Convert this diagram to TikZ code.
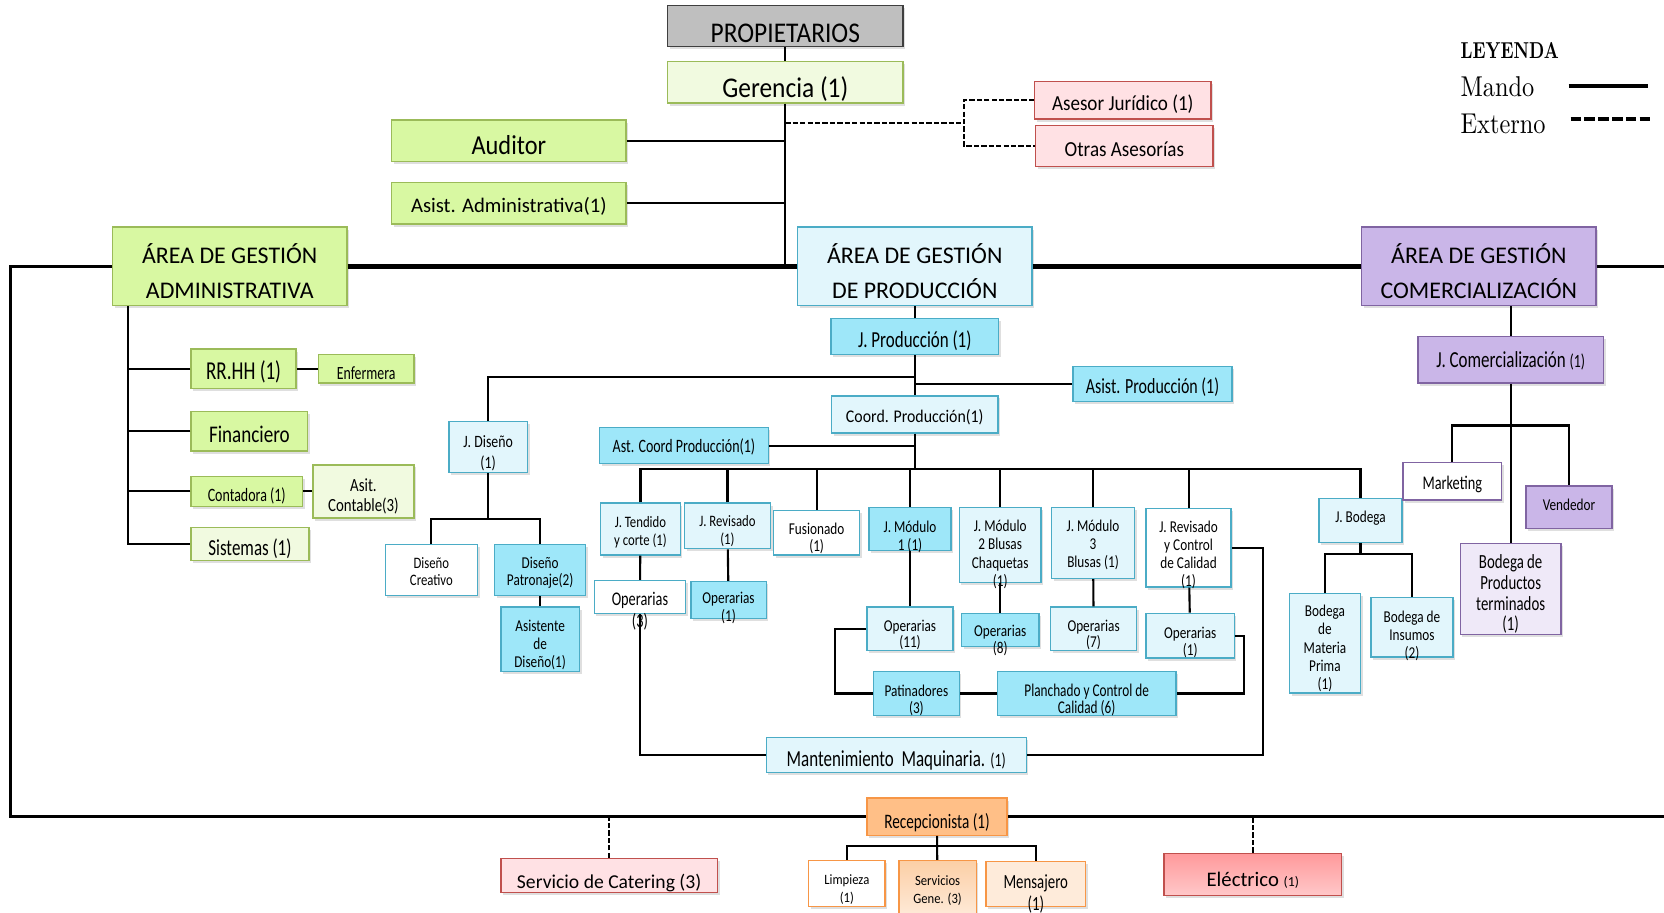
\documentclass[tikz,border=0pt]{standalone}
\usepackage{fontspec}
\setmainfont{Carlito}[FakeStretch=0.8]
\newfontfamily\tallfont{Carlito}[FakeStretch=0.74]
\newfontfamily\midfont{Carlito}[FakeStretch=0.89]
\newfontfamily\flatfont{Carlito}
\newfontfamily\legfont{lmroman10-regular.otf}[FakeStretch=0.85]
\newfontfamily\legbold{lmroman10-bold.otf}[FakeStretch=0.75]
\usetikzlibrary{shadows}

\newcommand\fsz[2]{\fontsize{#1}{#2}\selectfont}

\definecolor{grayfill}{HTML}{BFBFBF}
\definecolor{grayline}{HTML}{3F3F3F}
\definecolor{limefill}{HTML}{D8F8A2}
\definecolor{limeline}{HTML}{9BBB59}
\definecolor{palefill}{HTML}{F1FAE0}
\definecolor{skyfill}{HTML}{E2F6FC}
\definecolor{skyline}{HTML}{4BACC6}
\definecolor{aquafill}{HTML}{9EE7F9}
\definecolor{lilacfill}{HTML}{CAB6E8}
\definecolor{lilacpale}{HTML}{EFE9F8}
\definecolor{lilacline}{HTML}{8064A2}
\definecolor{rosefill}{HTML}{FFE1E4}
\definecolor{roseline}{HTML}{C0504D}
\definecolor{redtop}{HTML}{FF999B}
\definecolor{redbottom}{HTML}{FFC8C9}
\definecolor{peachfill}{HTML}{FFBF87}
\definecolor{peachline}{HTML}{F79646}
\definecolor{peachtop}{HTML}{FCCFA6}
\definecolor{peachbottom}{HTML}{FEEBDA}

\tikzset{
  box/.style={rectangle, draw, line width=1.3pt, inner sep=0pt,
    drop shadow={shadow xshift=2pt, shadow yshift=-2.5pt, opacity=.25}},
  graybox/.style={box, draw=grayline, fill=grayfill},
  limebox/.style={box, draw=limeline, fill=limefill},
  palebox/.style={box, draw=limeline, fill=palefill},
  skybox/.style={box, draw=skyline, fill=skyfill},
  aquabox/.style={box, draw=skyline, fill=aquafill},
  whitebox/.style={box, draw=skyline, fill=white},
  lilacbox/.style={box, draw=lilacline, fill=lilacfill},
  rosebox/.style={box, draw=roseline, fill=rosefill},
  peachbox/.style={box, draw=peachline, fill=peachfill},
  sz/.style 2 args={minimum width=#1pt, minimum height=#2pt},
  txt/.style={align=center, inner sep=0pt, text=black, yshift=#1pt},
  txt/.default=-5,
  arealine/.style={line width=4.4pt},
  frame/.style={line width=2.5pt},
  externo/.style={line width=2pt, dash pattern=on 5pt off 2pt},
}

\begin{document}
\begin{tikzpicture}[x=1pt, y=-1pt, line width=2pt]
  \useasboundingbox (0,0) rectangle (1568,860);

  \node[graybox, sz={222}{39}, label={[txt=-6.5, font=\midfont\fsz{26.9}{30}]center:PROPIETARIOS}] (prop) at (740,24.5) {};
  \node[palebox, sz={222}{39}, label={[txt=-6.5, font=\midfont\fsz{26.9}{30}]center:Gerencia (1)}] (ger) at (740,77.5) {};
  \node[limebox, sz={221}{39}, label={[txt=-4, font=\midfont\fsz{25.8}{30}]center:Auditor}] (aud) at (479.5,132.5) {};
  \node[limebox, sz={221}{39}, label={[txt=-3, font=\flatfont\fsz{19.5}{23}]center:Asist. Administrativa(1)}] (asadm) at (479.5,191.5) {};
  \node[rosebox, sz={166}{35}, label={[txt=-4, font=\midfont\fsz{20.2}{24}]center:Asesor Jurídico (1)}] (asjur) at (1058,94.5) {};
  \node[rosebox, sz={167}{39}, label={[txt=-3, font=\midfont\fsz{20.2}{24}]center:Otras Asesorías}] (otras) at (1059.5,137.5) {};

  \node[anchor=base west, font=\legbold\fsz{21.7}{24}] (leyenda) at (1372,55) {LEYENDA};
  \node[anchor=base west, font=\legfont\fsz{27}{30}] (mando) at (1372,91) {Mando};
  \node[anchor=base west, font=\legfont\fsz{27}{30}] (externo) at (1372,126) {Externo};
  \coordinate (mandoA) at (1478,81);
  \coordinate (mandoB) at (1553,81);
  \coordinate (extA) at (1480,112);
  \coordinate (extB) at (1556,112);
  \draw[line width=4pt] (mandoA) -- (mandoB);
  \draw[line width=4pt, dash pattern=on 10pt off 3pt] (extA) -- (extB);

  \node[limebox, sz={221}{74}, label={[txt=-4.5, font=\flatfont\fsz{22.5}{33}]center:{ÁREA DE GESTIÓN\\ADMINISTRATIVA}}] (aadm) at (216.5,251) {};
  \node[skybox, sz={221}{74}, label={[txt=-4.5, font=\flatfont\fsz{22.5}{33}]center:{ÁREA DE GESTIÓN\\DE PRODUCCIÓN}}] (aprod) at (862,251) {};
  \node[lilacbox, sz={221}{74}, label={[txt=-4.5, font=\flatfont\fsz{22.5}{33}]center:{ÁREA DE GESTIÓN\\COMERCIALIZACIÓN}}] (acom) at (1393.5,251) {};

  \node[limebox, sz={99}{37}, label={[txt=-3, font=\tallfont\fsz{24.3}{28}]center:RR.HH (1)}] (rrhh) at (229.5,347.5) {};
  \node[limebox, sz={90}{27}, label={[txt=-4.5, font=\tallfont\fsz{17.6}{20}]center:Enfermera}] (enf) at (345,347.5) {};
  \node[limebox, sz={110}{37}, label={[txt=-2.5, font=\fsz{22.5}{26}]center:Financiero}] (fin) at (235,406.5) {};
  \node[limebox, sz={105}{28}, label={[txt=-4.5, font=\tallfont\fsz{17.8}{20}]center:Contadora (1)}] (cont) at (232.5,463) {};
  \node[palebox, sz={95}{50}, label={[txt=-5, font=\fsz{17.5}{19}]center:{Asit.\\Contable(3)}}] (asitc) at (342.5,463) {};
  \node[palebox, sz={111}{31}, label={[txt=-5, font=\tallfont\fsz{21.6}{24}]center:Sistemas (1)}] (sist) at (235.5,512.5) {};

  \node[aquabox, sz={158}{34}, label={[txt=-4, font=\tallfont\fsz{21.6}{24}]center:J. Producción (1)}] (jprod) at (862,317) {};
  \node[aquabox, sz={150}{33}, label={[txt=-2.5, font=\tallfont\fsz{20.3}{24}]center:Asist. Producción (1)}] (asprod) at (1086,362) {};
  \node[skybox, sz={157}{35}, label={[txt=-2.5, font=\midfont\fsz{16.8}{20}]center:Coord. Producción(1)}] (coord) at (862,390.5) {};
  \node[aquabox, sz={159}{34}, label={[txt=-1.5, font=\tallfont\fsz{17.8}{20}]center:Ast. Coord Producción(1)}] (astc) at (644.5,420) {};
  \node[skybox, sz={74}{48}, label={[txt=-6, font=\fsz{16.3}{20}]center:{J. Diseño\\(1)}}] (jdis) at (460,421) {};
  \node[whitebox, sz={87}{48}, label={[txt=-2, font=\fsz{15}{16}]center:{Diseño\\Creativo}}] (dcre) at (406.5,537) {};
  \node[aquabox, sz={86}{48}, label={[txt=-3, font=\fsz{15.6}{16}]center:{Diseño\\Patronaje(2)}}] (dpat) at (509,537) {};
  \node[aquabox, sz={74}{61}, label={[txt=-5, font=\fsz{15.6}{17}]center:{Asistente\\de\\Diseño(1)}}] (asdis) at (509,602.5) {};

  \node[skybox, sz={75}{49}, label={[txt=-3, font=\fsz{15}{17}]center:{J. Tendido\\y corte (1)}}] (jten) at (603.5,498.5) {};
  \node[skybox, sz={81}{43}, label={[txt=-5, font=\fsz{15}{17}]center:{J. Revisado\\(1)}}] (jrev) at (685.5,495.5) {};
  \node[whitebox, sz={81}{42}, label={[txt=-5.5, font=\fsz{15.6}{16}]center:{Fusionado\\(1)}}] (fus) at (769.5,502) {};
  \node[aquabox, sz={77}{41}, label={[txt=-7, font=\fsz{15.6}{17}]center:{J. Módulo\\1 (1)}}] (jm1) at (857.5,498.5) {};
  \node[skybox, sz={77}{71}, label={[txt=-9, font=\fsz{15.6}{17.3}]center:{J. Módulo\\2 Blusas\\Chaquetas\\(1)}}] (jm2) at (942.5,513.5) {};
  \node[skybox, sz={78}{67}, label={[txt=-2, font=\fsz{15.6}{17}]center:{J. Módulo\\3\\Blusas (1)}}] (jm3) at (1030,511.5) {};
  \node[whitebox, sz={80}{74}, label={[txt=-6.5, font=\fsz{15.6}{17}]center:{J. Revisado\\y Control\\de Calidad\\(1)}}] (jrc) at (1120,516) {};
  \node[whitebox, sz={86}{31}, label={[txt=-13.5, font=\tallfont\fsz{18.2}{21}]center:{Operarias\\(3)}}] (op3) at (603,562.5) {};
  \node[aquabox, sz={71}{35}, label={[txt=-7.5, font=\fsz{15.6}{17}]center:{Operarias\\(1)}}] (opr) at (686.5,565.5) {};
  \node[skybox, sz={81}{41}, label={[txt=-6, font=\fsz{15.6}{15.5}]center:{Operarias\\(11)}}] (op11) at (857.5,592.5) {};
  \node[aquabox, sz={73}{31}, label={[txt=-10, font=\fsz{15.6}{16}]center:{Operarias\\(8)}}] (op8) at (942.5,593.5) {};
  \node[skybox, sz={81}{41}, label={[txt=-6, font=\fsz{15.6}{15.5}]center:{Operarias\\(7)}}] (op7) at (1030.5,592.5) {};
  \node[skybox, sz={83}{42}, label={[txt=-6, font=\fsz{15.6}{16}]center:{Operarias\\(1)}}] (oprc) at (1121.5,599) {};
  \node[aquabox, sz={81}{41}, label={[txt=-6.5, font=\fsz{15.6}{16}]center:{Patinadores\\(3)}}] (pat) at (863.5,653.5) {};
  \node[aquabox, sz={168}{41}, label={[txt=-6, font=\tallfont\fsz{16.9}{16}]center:{Planchado y Control de\\Calidad (6)}}] (plan) at (1024,653.5) {};
  \node[skybox, sz={245}{33}, label={[txt=-5.5, font=\tallfont\fsz{21.6}{24}]center:{Mantenimiento\ \ Maquinaria. {\fsz{17.6}{20}(1)}}}] (mant) at (844.5,711.5) {};

  \node[skybox, sz={78}{41}, label={[txt=2, font=\fsz{15.6}{17}]center:J. Bodega}] (jbod) at (1282,490.5) {};
  \node[skybox, sz={67}{94}, label={[txt=-5, font=\fsz{15.6}{17}]center:{Bodega\\de\\Materia\\Prima\\(1)}}] (bmp) at (1248.5,606) {};
  \node[skybox, sz={77}{56}, label={[txt=-8, font=\fsz{15.6}{17}]center:{Bodega de\\Insumos\\(2)}}] (bins) at (1330.5,591) {};

  \node[lilacbox, sz={175}{44}, label={[txt=-1, font=\tallfont\fsz{21.6}{24}]center:{J. Comercialización {\fsz{17.6}{20}(1)}}}] (jcom) at (1423.5,339) {};
  \node[lilacbox, fill=white, sz={93}{35}, label={[txt=-3, font=\tallfont\fsz{18.2}{20}]center:Marketing}] (mkt) at (1368.5,453.5) {};
  \node[lilacbox, sz={81}{40}, label={[txt=2.5, font=\fsz{15.6}{17}]center:Vendedor}] (vend) at (1478.5,478) {};
  \node[lilacbox, fill=lilacpale, sz={95}{86}, label={[txt=-5, font=\tallfont\fsz{18.9}{19.5}]center:{Bodega de\\Productos\\terminados\\(1)}}] (bpt) at (1423.5,555) {};

  \node[peachbox, sz={132}{35}, label={[txt=-6, font=\tallfont\fsz{19.4}{22}]center:Recepcionista (1)}] (recep) at (883,769.5) {};
  \node[rosebox, sz={204}{32}, label={[txt=-7, font=\flatfont\fsz{18.5}{22}]center:Servicio de Catering (3)}] (cat) at (574,825) {};
  \node[rosebox, top color=redtop, bottom color=redbottom, sz={167}{40}, label={[txt=-5.5, font=\flatfont\fsz{19.5}{23}]center:{Eléctrico {\fsz{13}{15}(1)}}}] (elec) at (1180.5,824) {};
  \node[peachbox, fill=white, sz={72}{43}, label={[txt=-5.5, font=\midfont\fsz{13.4}{17}]center:{Limpieza\\(1)}}] (limp) at (798,832.5) {};
  \node[peachbox, top color=peachtop, bottom color=peachbottom, sz={73}{54}, label={[txt=-1, font=\midfont\fsz{13.4}{17}]center:{Servicios\\Gene. (3)}}] (serv) at (883.5,838) {};
  \node[peachbox, top color=peachbottom, bottom color=peachbottom, sz={94}{42}, label={[txt=-9.5, font=\tallfont\fsz{18.9}{20}]center:{Mensajero\\(1)}}] (mens) at (976,833) {};

  \coordinate (hub) at (740,251);
  \coordinate (ext) at (908,115.5);
  \coordinate (nw) at (10,251);
  \coordinate (sw) at (10,769.5);
  \coordinate (ne) at (1568,251);
  \coordinate (se) at (1568,769.5);
  \coordinate (spine) at (121,512.5);
  \coordinate (djun) at (862,355);
  \coordinate (pbar) at (862,442);
  \coordinate (dbar) at (460,489);
  \coordinate (lloop) at (787,653.5);
  \coordinate (rloop) at (1172,653.5);
  \coordinate (mleft) at (603,711.5);
  \coordinate (mright) at (1190,711.5);
  \coordinate (bbar) at (1282,522);
  \coordinate (cbar) at (1423.5,401);
  \coordinate (rbar) at (883,797);

  \draw (prop) -- (ger);
  \draw (ger) -- (hub);
  \draw (aud) -- (aud -| hub);
  \draw (asadm) -- (asadm -| hub);
  \draw[externo] (ext -| hub) -- (ext);
  \draw[externo] (asjur.west) -| (ext) |- (otras.west);

  \draw[arealine] (aadm) -- (aprod);
  \draw[arealine] (aprod) -- (acom);
  \draw[frame] (acom) -- (ne);
  \draw[frame] (aadm) -- (nw) -- (sw) -- (recep);
  \draw[frame] (recep) -- (se);

  \draw (aadm.south -| spine) -- (spine) -- (sist);
  \foreach \n in {rrhh,fin,cont}
    \draw (\n) -- (\n -| spine);
  \draw (rrhh) -- (enf);
  \draw (cont) -- (asitc);

  \draw (aprod) -- (jprod);
  \draw (jprod) -- (coord);
  \draw (djun) -| (jdis);
  \draw (asprod) -- (asprod -| coord);
  \draw (coord) -- (pbar);
  \draw (astc) -- (astc -| pbar);
  \draw (jten) |- (pbar) -| (jbod);
  \foreach \n in {jrev,fus,jm1,jm2,jm3,jrc}
    \draw (\n) -- (\n |- pbar);
  \draw (jten) -- (op3);
  \draw (jrev) -- (opr);
  \draw (jm1) -- (op11);
  \draw (jm2) -- (op8);
  \draw (jm3) -- (op7);
  \draw (jrc) -- (oprc);
  \draw (op11) -| (lloop) -- (pat);
  \draw (pat) -- (plan);
  \draw (oprc) -| (rloop) -- (plan);
  \draw (op3) -- (mleft) -- (mant);
  \draw (mant) -- (mright) |- (jrc);

  \draw (jdis) -- (dbar);
  \draw (dcre) |- (dbar) -| (dpat);
  \draw (dpat) -- (asdis);

  \draw (jbod) -- (bbar);
  \draw (bmp) |- (bbar) -| (bins);

  \draw (jcom) -- (jcom |- acom.south);
  \draw (jcom) -- (bpt);
  \draw (mkt) |- (cbar) -| (vend);

  \draw (recep) -- (rbar) -- (serv);
  \draw (limp) |- (rbar) -| (mens);
  \draw[externo] (cat) -- (cat |- sw);
  \draw[externo] (elec) -- (elec |- sw);
\end{tikzpicture}
\end{document}
